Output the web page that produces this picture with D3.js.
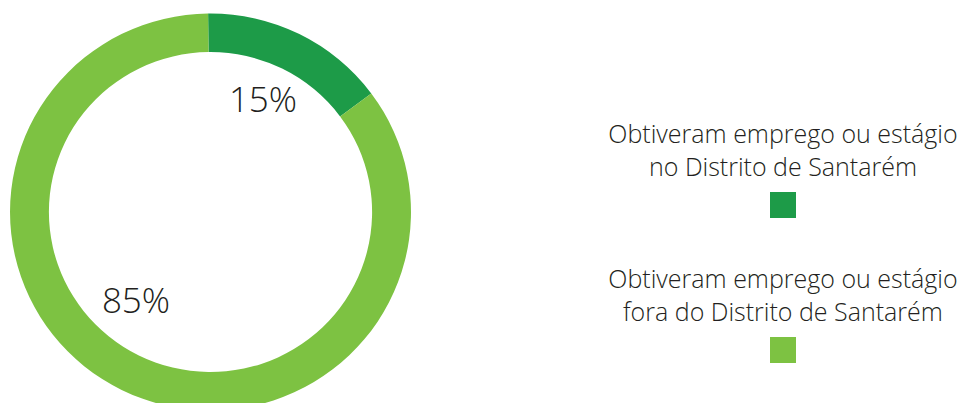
<!DOCTYPE html>
<html>
<head>
<meta charset="utf-8">
<script src="https://cdn.jsdelivr.net/npm/d3@7"></script>
<style>
  html, body { margin: 0; padding: 0; background: #fff; }
  svg { display: block; }
  text { font-family: "Open Sans", sans-serif; fill: #231f20; }
</style>
</head>
<body>
<svg id="chart" width="963" height="403"></svg>
<script>
// Share of graduates who found a job or internship, by location
const categories = [
  "Obtiveram emprego ou estágio no Distrito de Santarém",
  "Obtiveram emprego ou estágio fora do Distrito de Santarém"
];
const legendLines = [
  ["Obtiveram emprego ou estágio", "no Distrito de Santarém"],
  ["Obtiveram emprego ou estágio", "fora do Distrito de Santarém"]
];
const values = [15, 85];
const colors = ["#1d9b48", "#7dc242"];

const svg = d3.select("#chart");
const cx = 210.5, cy = 212, outerR = 198.5, innerR = 160;

const startA = -0.012;
const pie = d3.pie().sort(null).value(d => d)
  .startAngle(startA).endAngle(startA + 2 * Math.PI);
const arcs = pie(values);
const arc = d3.arc().innerRadius(innerR).outerRadius(outerR);

// Ring drawn slightly wider than tall
const ring = svg.append("g").attr("transform", `translate(${cx},${cy}) scale(1.01,1)`);
ring.selectAll("path")
  .data(arcs)
  .join("path")
  .attr("d", arc)
  .attr("fill", (d, i) => colors[i]);

// Percentage labels placed inside the ring
const g = svg.append("g").attr("transform", `translate(${cx},${cy})`);
const labelPos = [[52.5, -100], [-74.5, 101]];
g.selectAll("text.pct")
  .data(arcs)
  .join("text")
  .attr("class", "pct")
  .attr("x", (d, i) => labelPos[i][0])
  .attr("y", (d, i) => labelPos[i][1])
  .attr("text-anchor", "middle")
  .attr("font-size", 35)
  .attr("font-weight", 300)
  .text(d => d.data + "%");

// Legend: two-line caption above a colour swatch
const legendX = 783;
const legendTop = [143, 288];
const lg = svg.append("g");
legendLines.forEach((lines, i) => {
  const item = lg.append("g");
  lines.forEach((t, j) => {
    item.append("text")
      .attr("x", legendX)
      .attr("y", legendTop[i] + j * 33)
      .attr("text-anchor", "middle")
      .attr("font-size", 25)
      .attr("font-weight", 300)
      .text(t);
  });
  item.append("rect")
    .attr("x", legendX - 13)
    .attr("y", legendTop[i] + 49)
    .attr("width", 26)
    .attr("height", 26)
    .attr("fill", colors[i]);
});
</script>
</body>
</html>
